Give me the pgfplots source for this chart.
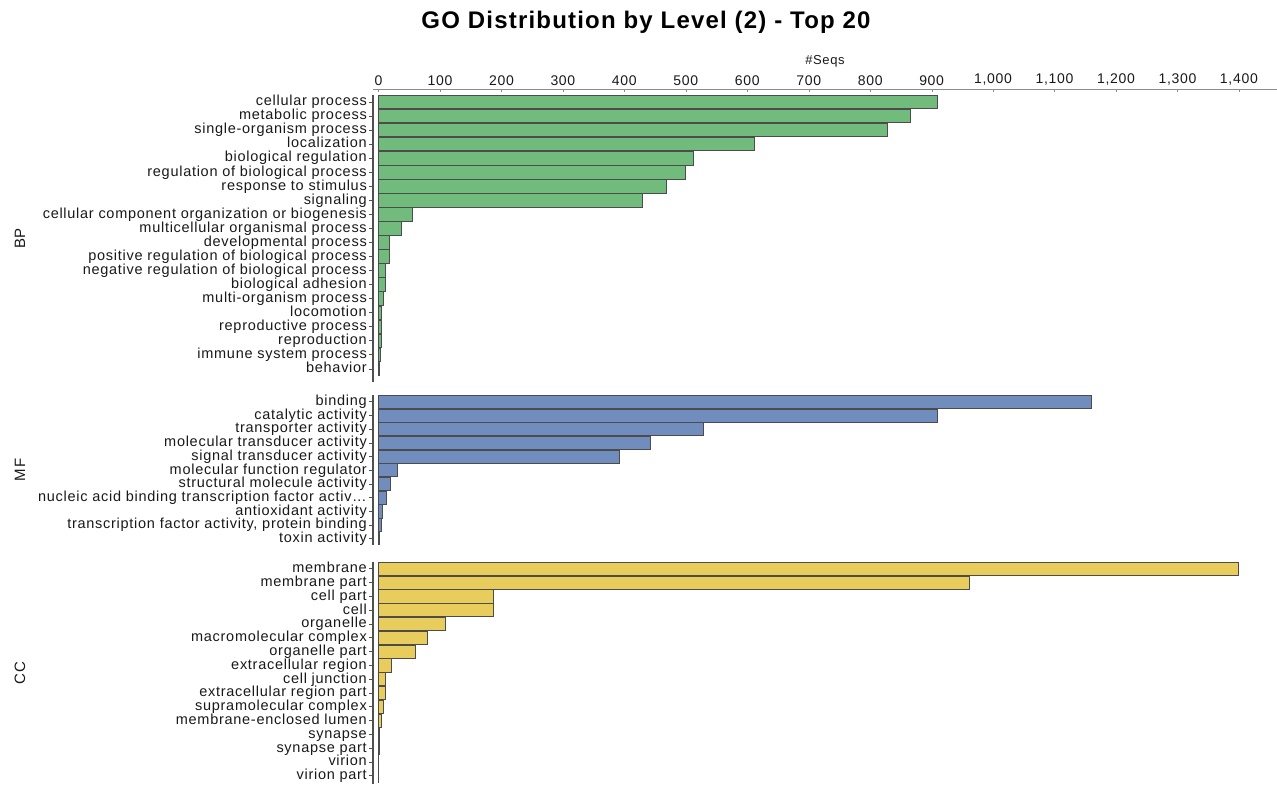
\documentclass[border=0pt]{standalone}
\usepackage{fontspec}
\setmainfont{Liberation Sans}[LetterSpace=5]
\usepackage{pgfplots}
\pgfplotsset{compat=1.18}

\definecolor{bpgreen}{RGB}{113,187,125}
\definecolor{mfblue}{RGB}{112,141,189}
\definecolor{ccyellow}{RGB}{232,205,92}
\definecolor{txt}{RGB}{25,25,25}
\definecolor{axgray}{RGB}{80,80,80}
\definecolor{gridgray}{RGB}{190,190,190}

\pgfplotsset{
  panel/.style={
    scale only axis, width=904pt, anchor=south west,
    xmin=-9, xmax=1462, ymin=-0.5, y dir=reverse,
    axis y line*=left, axis x line=none,
    y axis line style={draw=axgray, line width=1.3pt},
    xtick={100,200,...,1400}, xmajorgrids,
    major grid style={gridgray, line width=0.8pt, dash pattern=on 2.5pt off 2.5pt},
    ytick style={draw=axgray, line width=0.8pt},
    tick align=outside, major tick length=4pt,
    yticklabel style={font=\fontsize{14.5}{16}\selectfont, text=txt, inner sep=2pt,
      anchor=east, text height=10.5pt, text depth=3pt},
    ylabel style={at={([xshift=-353pt]rel axis cs:0,0.5)}, anchor=center,
      font=\fontsize{15}{17}\selectfont, text=txt},
    xbar, bar width=0.96,
    every axis plot/.append style={draw=black!70, line width=0.9pt},
  },
}

\begin{document}
\begin{tikzpicture}

% top value axis
\begin{axis}[scale only axis, width=904pt, height=6pt, anchor=south west,
  at={(373pt,691pt)}, xmin=-9, xmax=1462, ymin=0, ymax=1,
  axis x line*=top, axis y line=none,
  x axis line style={draw=black!45, line width=0.9pt},
  xtick={0,100,...,1400}, tick align=inside, major tick length=3pt,
  xtick style={draw=black!45},
  /pgf/number format/.cd, 1000 sep={,}, assume math mode=true, /pgfplots/.cd,
  xticklabel style={font=\fontsize{14}{16}\selectfont, text=txt},
  xlabel={\#Seqs}, xlabel style={font=\fontsize{13}{15}\selectfont, text=txt}]
\addplot[draw=none] coordinates {(0,0)};
\end{axis}

% BP
\begin{axis}[panel, at={(373pt,404pt)}, height=287pt, ymax=19.93, ylabel={BP},
  ytick={0,...,19},
  yticklabels={cellular process, metabolic process, single-organism process,
    localization, biological regulation, regulation of biological process,
    response to stimulus, signaling, cellular component organization or biogenesis,
    multicellular organismal process, developmental process,
    positive regulation of biological process, negative regulation of biological process,
    biological adhesion, multi-organism process, locomotion, reproductive process,
    reproduction, immune system process, behavior}]
\addplot[fill=bpgreen] coordinates {
  (909,0) (866,1) (828,2) (612,3) (513,4) (500,5) (468,6) (429,7) (55,8) (38,9)
  (17,10) (17,11) (11,12) (11,13) (8,14) (5,15) (5,16) (5,17) (3,18) (2,19)};
\end{axis}

% MF
\begin{axis}[panel, at={(373pt,241pt)}, height=150pt, ymax=10.45, ylabel={MF},
  ytick={0,...,10},
  yticklabels={binding, catalytic activity, transporter activity,
    molecular transducer activity, signal transducer activity,
    molecular function regulator, structural molecule activity,
    nucleic acid binding transcription factor activ…, antioxidant activity,
    {transcription factor activity, protein binding}, toxin activity}]
\addplot[fill=mfblue] coordinates {
  (1160,0) (909,1) (529,2) (442,3) (392,4) (30,5) (19,6) (13,7) (6,8) (4,9) (1,10)};
\end{axis}

% CC
\begin{axis}[panel, at={(373pt,2pt)}, height=222pt, ymax=15.59, ylabel={CC},
  ytick={0,...,15},
  yticklabels={membrane, membrane part, cell part, cell, organelle,
    macromolecular complex, organelle part, extracellular region, cell junction,
    extracellular region part, supramolecular complex, membrane-enclosed lumen,
    synapse, synapse part, virion, virion part}]
\addplot[fill=ccyellow] coordinates {
  (1400,0) (962,1) (187,2) (187,3) (109,4) (80,5) (60,6) (21,7) (11,8) (11,9)
  (7.5,10) (4,11) (2,12) (1,13) (0.5,14) (0.5,15)};
\end{axis}

\node[font=\bfseries\fontsize{24}{28}\selectfont, text=black] at (646pt,764pt)
  {GO Distribution by Level (2) - Top 20};

\pgfresetboundingbox
\path[use as bounding box] (0,0) rectangle (1277pt,786pt);
\end{tikzpicture}
\end{document}
